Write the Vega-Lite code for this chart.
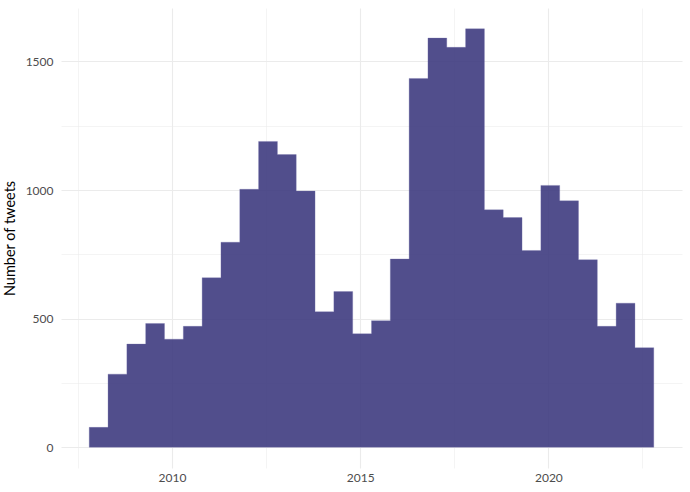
{
  "$schema": "https://vega.github.io/schema/vega-lite/v6.json",
  "autosize": {"type": "none"},
  "width": 621,
  "height": 460,
  "padding": {"left": 61, "top": 8, "right": 8, "bottom": 24},
  "background": "white",
  "config": {
    "view": {"stroke": null},
    "font": "Lato",
    "axis": {"domain": false, "ticks": false, "tickSize": 0, "labelFont": "Lato", "titleFont": "Lato"}
  },
  "data": {
    "values": [
      {"start": 2007.8, "count": 77},
      {"start": 2008.3, "count": 284},
      {"start": 2008.8, "count": 401},
      {"start": 2009.3, "count": 481},
      {"start": 2009.8, "count": 420},
      {"start": 2010.3, "count": 470},
      {"start": 2010.8, "count": 659},
      {"start": 2011.3, "count": 797},
      {"start": 2011.8, "count": 1003},
      {"start": 2012.3, "count": 1189},
      {"start": 2012.8, "count": 1138},
      {"start": 2013.3, "count": 996},
      {"start": 2013.8, "count": 527},
      {"start": 2014.3, "count": 605},
      {"start": 2014.8, "count": 441},
      {"start": 2015.3, "count": 492},
      {"start": 2015.8, "count": 732},
      {"start": 2016.3, "count": 1434},
      {"start": 2016.8, "count": 1591},
      {"start": 2017.3, "count": 1555},
      {"start": 2017.8, "count": 1627},
      {"start": 2018.3, "count": 923},
      {"start": 2018.8, "count": 893},
      {"start": 2019.3, "count": 765},
      {"start": 2019.8, "count": 1018},
      {"start": 2020.3, "count": 958},
      {"start": 2020.8, "count": 729},
      {"start": 2021.3, "count": 470},
      {"start": 2021.8, "count": 560},
      {"start": 2022.3, "count": 387},
      {"start": 2022.8, "count": 387}
    ]
  },
  "mark": {"type": "area", "interpolate": "step-after", "fill": "#3E3B80", "fillOpacity": 0.9, "stroke": "#6F6BA8", "strokeWidth": 0.5, "strokeOpacity": 0.6},
  "encoding": {
    "x": {
      "field": "start",
      "type": "quantitative",
      "scale": {"domain": [2007.05, 2023.55], "nice": false, "zero": false},
      "axis": {
        "title": null,
        "values": [2007.5, 2010, 2012.5, 2015, 2017.5, 2020, 2022.5],
        "labelExpr": "datum.value % 5 === 0 ? datum.label : ''",
        "format": "d",
        "labelFontSize": 12,
        "labelColor": "#4D4D4D",
        "labelPadding": 4,
        "grid": true,
        "gridColor": "#EBEBEB",
        "gridWidth": {"condition": {"test": "datum.value % 5 === 0", "value": 1.1}, "value": 0.55}
      }
    },
    "y": {
      "field": "count",
      "type": "quantitative",
      "scale": {"domain": [-81, 1708], "nice": false, "zero": false},
      "axis": {
        "title": "Number of tweets",
        "titleFontSize": 14.5,
        "titleFontWeight": "normal",
        "titleColor": "#000000",
        "titlePadding": 8,
        "values": [0, 250, 500, 750, 1000, 1250, 1500],
        "labelExpr": "datum.value % 500 === 0 ? datum.label : ''",
        "format": "d",
        "labelFontSize": 12,
        "labelColor": "#4D4D4D",
        "labelPadding": 8,
        "grid": true,
        "gridColor": "#EBEBEB",
        "gridWidth": {"condition": {"test": "datum.value % 500 === 0", "value": 1.1}, "value": 0.55}
      }
    },
    "y2": {"datum": 0}
  }
}
